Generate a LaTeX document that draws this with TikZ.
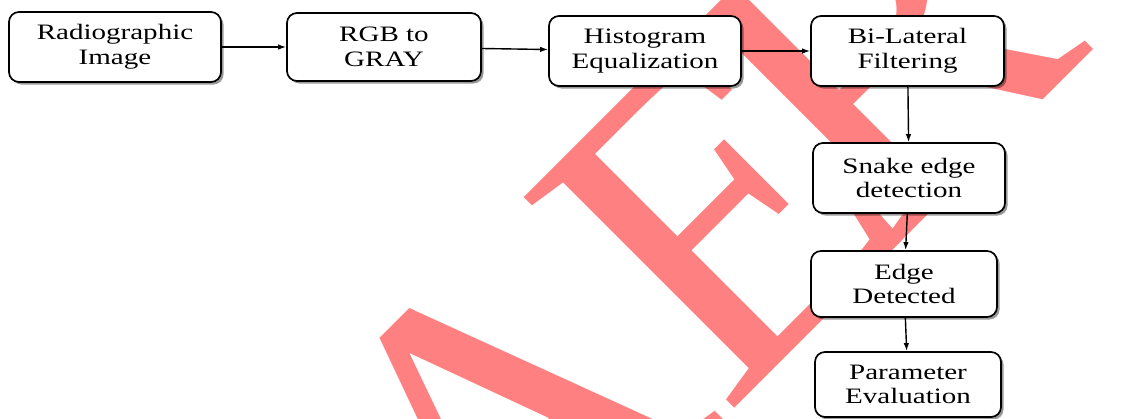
\documentclass[tikz,border=0pt]{standalone}
\usepackage{fontspec}
\setmainfont{Liberation Serif}[FakeStretch=1.32]
\newfontfamily\wmfont{Liberation Serif}
\usetikzlibrary{arrows.meta, shadows}
\tikzset{block/.style = {draw, line width=1.7pt, rounded corners=10pt, fill=white, align=center,
  inner sep=0pt, font=\fontsize{22pt}{24.7pt}\selectfont,
  drop shadow={shadow xshift=2.5pt, shadow yshift=-2.5pt, fill=black, opacity=0.4}}}
\tikzset{arr/.style = {line width=1.4pt, -{Latex[length=8pt, width=5.5pt]}}}

\begin{document}
\begin{tikzpicture}[x=1pt, y=-1pt]
\useasboundingbox (0,0) rectangle (1126,418);
\begin{scope}
\clip (0,0) rectangle (1126,418);
\node [rotate=45, anchor=base west, inner sep=0pt, text=red!50, font=\wmfont\fontsize{455pt}{455pt}\selectfont] (mark) at (493,650) {AE\kern-60pt R};
\end{scope}
\node [block, minimum width=212pt, minimum height=70pt] (image) at (115,47) {Radiographic\\Image};
\node [block, minimum width=194pt, minimum height=68pt] (gray) at (384,47) {RGB to\\GRAY};
\node [block, minimum width=192pt, minimum height=70pt] (histeq) at (645,51) {Histogram\\Equalization};
\node [block, minimum width=193pt, minimum height=70pt] (bilat) at (907.5,51) {Bi-Lateral\\Filtering};
\node [block, minimum width=192pt, minimum height=70pt] (snake) at (909,178) {Snake edge\\detection};
\node [block, minimum width=186pt, minimum height=66pt] (edges) at (904,284) {Edge\\Detected};
\node [block, minimum width=186pt, minimum height=65pt] (param) at (908,384.5) {Parameter\\Evaluation};
\draw [arr] (image) -- (gray);
\draw [arr] (gray) -- (histeq);
\draw [arr] (histeq) -- (bilat);
\draw [arr] (bilat) -- (snake);
\draw [arr] (snake) -- (edges);
\draw [arr] (edges) -- (param);
\end{tikzpicture}
\end{document}
